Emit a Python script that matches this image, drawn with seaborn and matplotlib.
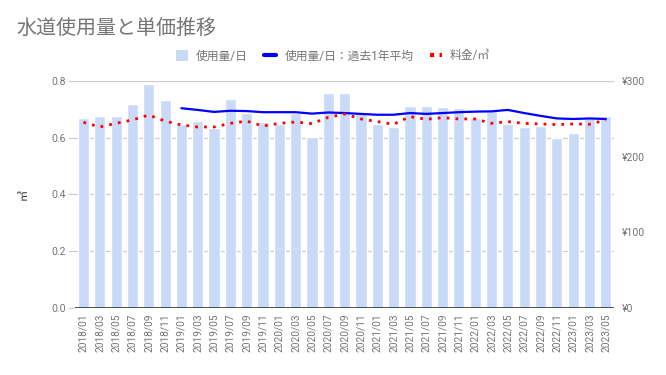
import numpy as np
import pandas as pd
import seaborn as sns
import matplotlib.pyplot as plt
from matplotlib.lines import Line2D
from matplotlib.patches import Patch

# bimonthly billing periods
months = ['2018/01', '2018/03', '2018/05', '2018/07', '2018/09', '2018/11',
          '2019/01', '2019/03', '2019/05', '2019/07', '2019/09', '2019/11',
          '2020/01', '2020/03', '2020/05', '2020/07', '2020/09', '2020/11',
          '2021/01', '2021/03', '2021/05', '2021/07', '2021/09', '2021/11',
          '2022/01', '2022/03', '2022/05', '2022/07', '2022/09', '2022/11',
          '2023/01', '2023/03', '2023/05']

usage = [0.669, 0.677, 0.677, 0.719, 0.789, 0.733,
         0.648, 0.659, 0.635, 0.736, 0.688, 0.654,
         0.648, 0.686, 0.603, 0.757, 0.757, 0.690,
         0.648, 0.639, 0.712, 0.712, 0.707, 0.704,
         0.669, 0.695, 0.648, 0.637, 0.641, 0.598,
         0.616, 0.669, 0.677]

usage_avg = [np.nan, np.nan, np.nan, np.nan, np.nan, np.nan,
             0.704, 0.698, 0.691, 0.695, 0.694, 0.690,
             0.690, 0.690, 0.685, 0.689, 0.687, 0.684,
             0.681, 0.681, 0.687, 0.684, 0.687, 0.690,
             0.692, 0.693, 0.698, 0.687, 0.677, 0.668,
             0.666, 0.668, 0.666]

price = [245.4, 239.2, 244.0, 248.5, 255.0, 247.0,
         241.9, 239.2, 239.2, 244.0, 247.0, 240.5,
         244.0, 245.8, 243.6, 252.0, 256.4, 249.8,
         246.3, 242.8, 252.9, 249.4, 251.5, 249.8,
         249.8, 244.0, 246.3, 244.0, 243.2, 242.3,
         243.2, 242.8, 248.5]

grey = '#757575'
bar_color = '#c9daf8'

sns.set_theme(style='white')
plt.rcParams['font.family'] = ['Roboto', 'Noto Sans CJK JP', 'DejaVu Sans']

df = pd.DataFrame({'month': months, 'usage': usage, 'avg': usage_avg,
                   'price': price, 'pos': np.arange(len(months))})

fig = plt.figure(figsize=(6.66, 3.75), dpi=100)
ax = fig.add_axes([0.113, 0.179, 0.809, 0.605])

sns.barplot(data=df, x='pos', y='usage', color=bar_color, width=0.68,
            saturation=1, ax=ax, zorder=2)
sns.lineplot(data=df, x='pos', y='avg', color='#0000ff', linewidth=1.6,
             ax=ax, zorder=4)

ax2 = ax.twinx()
sns.lineplot(data=df, x='pos', y='price', color='#ff0000', linewidth=2,
             linestyle=(0, (1, 2.2)), ax=ax2, zorder=4)

ax.set_xlim(-0.5, len(months) - 0.5)
ax.set_ylim(0, 0.8)
ax.set_yticks([0, 0.2, 0.4, 0.6, 0.8])
ax.set_yticklabels(['0.0', '0.2', '0.4', '0.6', '0.8'])
ax.yaxis.grid(True, color='#cccccc', linewidth=0.9, zorder=0)
ax.set_axisbelow(True)
ax.axhline(0, color='#333333', linewidth=1.2, zorder=5)
ax.set_xticks(np.arange(len(months)))
ax.set_xticklabels(months, rotation=90)
ax.tick_params(axis='x', length=0, pad=4, labelsize=7.3, labelcolor=grey)
ax.tick_params(axis='y', length=5, width=0.8, color='#cccccc', pad=2,
               labelsize=7.5, labelcolor=grey)
ax.set_xlabel('')
ax.set_ylabel('㎥', color='#333333', fontsize=8, labelpad=16)

ax2.set_ylim(0, 300)
ax2.set_yticks([0, 100, 200, 300])
ax2.set_yticklabels(['¥0', '¥100', '¥200', '¥300'])
ax2.tick_params(axis='y', length=0, pad=6, labelsize=7.5, labelcolor=grey)
ax2.set_ylabel('')
ax2.set_xlabel('')

for a in (ax, ax2):
    for s in a.spines.values():
        s.set_visible(False)

ax2.patch.set_visible(False)

fig.text(0.024, 0.925, '水道使用量と単価推移', fontsize=14.4, color=grey,
         ha='left', va='center')

handles = [Patch(facecolor=bar_color, edgecolor='none'),
           Line2D([], [], color='#0000ff', linewidth=3),
           Line2D([], [], color='#ff0000', linewidth=3, linestyle=(0, (1, 1.3)))]
labels = ['使用量/日', '使用量/日：過去1年平均', '料金/㎥']
leg = fig.legend(handles, labels, loc='center', bbox_to_anchor=(0.5, 0.851),
                 ncol=3, frameon=False, fontsize=8.5, handlelength=1.0,
                 handleheight=1.0, columnspacing=1.4, handletextpad=0.7)
for t in leg.get_texts():
    t.set_color(grey)

fig.savefig('out.png', dpi=100)
